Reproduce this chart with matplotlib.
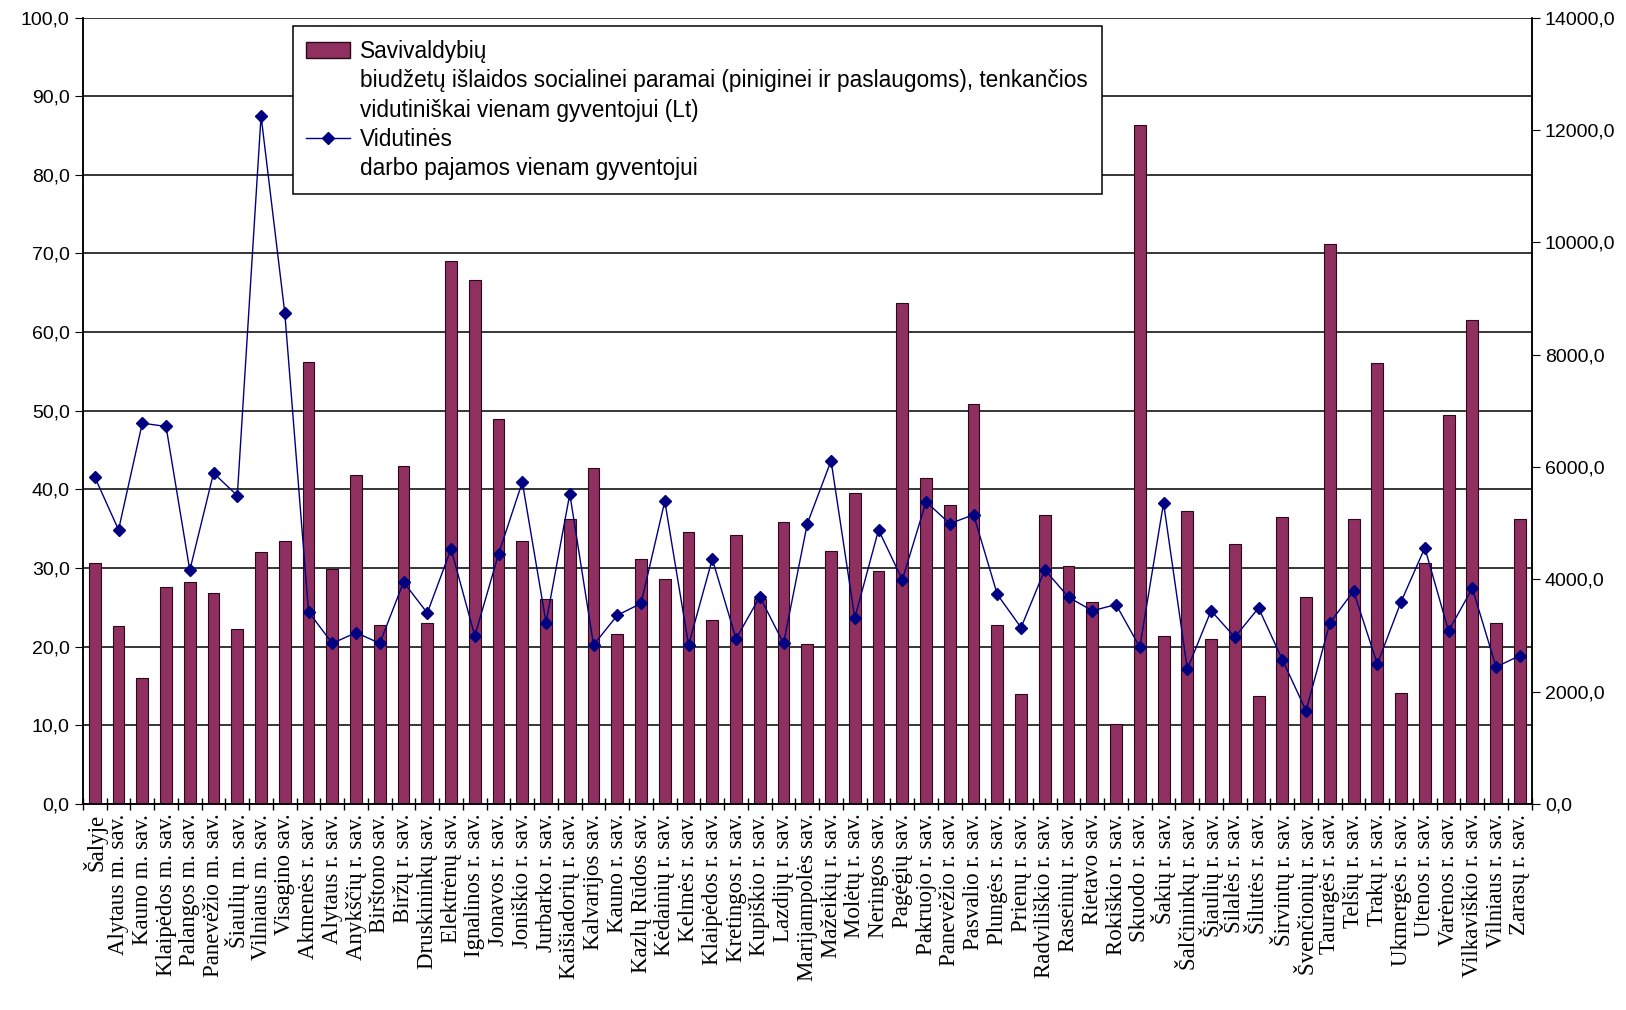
import numpy as np
import matplotlib
from matplotlib import pyplot as plt
from matplotlib.patches import Patch
from matplotlib.lines import Line2D
from matplotlib.ticker import FuncFormatter, MultipleLocator

savivaldybes = [
    'Šalyje', 'Alytaus m. sav.', 'Kauno m. sav.', 'Klaipėdos m. sav.', 'Palangos m. sav.',
    'Panevėžio m. sav.', 'Šiaulių m. sav.', 'Vilniaus m. sav.', 'Visagino sav.',
    'Akmenės r. sav.', 'Alytaus r. sav.', 'Anykščių r. sav.', 'Birštono sav.',
    'Biržų r. sav.', 'Druskininkų sav.', 'Elektrėnų sav.', 'Ignalinos r. sav.',
    'Jonavos r. sav.', 'Joniškio r. sav.', 'Jurbarko r. sav.', 'Kaišiadorių r. sav.',
    'Kalvarijos sav.', 'Kauno r. sav.', 'Kazlų Rūdos sav.', 'Kėdainių r. sav.',
    'Kelmės r. sav.', 'Klaipėdos r. sav.', 'Kretingos r. sav.', 'Kupiškio r. sav.',
    'Lazdijų r. sav.', 'Marijampolės sav.', 'Mažeikių r. sav.', 'Molėtų r. sav.',
    'Neringos sav.', 'Pagėgių sav.', 'Pakruojo r. sav.', 'Panevėžio r. sav.',
    'Pasvalio r. sav.', 'Plungės r. sav.', 'Prienų r. sav.', 'Radviliškio r. sav.',
    'Raseinių r. sav.', 'Rietavo sav.', 'Rokiškio r. sav.', 'Skuodo r. sav.',
    'Šakių r. sav.', 'Šalčininkų r. sav.', 'Šiaulių r. sav.', 'Šilalės r. sav.',
    'Šilutės r. sav.', 'Širvintų r. sav.', 'Švenčionių r. sav.', 'Tauragės r. sav.',
    'Telšių r. sav.', 'Trakų r. sav.', 'Ukmergės r. sav.', 'Utenos r. sav.',
    'Varėnos r. sav.', 'Vilkaviškio r. sav.', 'Vilniaus r. sav.', 'Zarasų r. sav.',
]

# socialinės paramos išlaidos vienam gyventojui (Lt), kairė ašis
islaidos = [
    30.7, 22.6, 16.0, 27.6, 28.2, 26.8, 22.3, 32.1, 33.4,
    56.2, 29.9, 41.8, 22.7, 43.0, 23.0, 69.0, 66.6,
    49.0, 33.4, 26.0, 36.3, 42.7, 21.6, 31.1, 28.6,
    34.6, 23.4, 34.2, 26.1, 35.8, 20.3, 32.2, 39.6,
    29.6, 63.7, 41.4, 38.0, 50.8, 22.7, 14.0, 36.7,
    30.2, 25.7, 10.2, 86.4, 21.4, 37.3, 21.0, 33.1,
    13.7, 36.5, 26.3, 71.2, 36.3, 56.1, 14.1, 30.7,
    49.5, 61.6, 23.0, 36.3,
]

# vidutinės darbo pajamos vienam gyventojui, dešinė ašis
pajamos = [
    5820, 4880, 6780, 6720, 4160, 5890, 5490, 12250, 8740,
    3420, 2860, 3050, 2860, 3950, 3400, 4540, 2990,
    4450, 5730, 3230, 5520, 2830, 3360, 3570, 5390,
    2830, 4360, 2940, 3690, 2860, 4990, 6110, 3310,
    4880, 3990, 5380, 4990, 5150, 3730, 3140, 4170,
    3680, 3440, 3550, 2790, 5360, 2400, 3440, 2970,
    3490, 2570, 1660, 3220, 3790, 2490, 3600, 4560,
    3080, 3840, 2440, 2640,
]

x = np.arange(len(savivaldybes))
comma = FuncFormatter(lambda v, p: f'{v:.1f}'.replace('.', ','))

fig = plt.figure(figsize=(16.26, 10.10), dpi=100)
ax = fig.add_axes([0.051, 0.204, 0.891, 0.7786])

ax.bar(x, islaidos, width=0.5, color='#8f3060', edgecolor='#2a0a18', linewidth=0.8)
ax.set_xlim(-0.5, len(x) - 0.5)
ax.set_ylim(0, 100)
ax.yaxis.set_major_locator(MultipleLocator(10))
ax.yaxis.set_major_formatter(comma)
ax.grid(axis='y', color='black', linewidth=1.1)
ax.set_axisbelow(True)

ax.set_xticks(x)
ax.set_xticklabels(savivaldybes, rotation=90, family='Liberation Serif', fontsize=16.5)
ax.set_xticks(np.arange(len(x) + 1) - 0.5, minor=True)
ax.tick_params(axis='x', which='major', length=0, pad=7)
ax.tick_params(axis='x', which='minor', direction='inout', length=9, width=1)
ax.tick_params(axis='y', direction='out', length=6, labelsize=14)
for lab in ax.get_yticklabels():
    lab.set_family('Liberation Sans')

ax2 = ax.twinx()
ax2.plot(x, pajamos, color='#000080', linewidth=1, marker='D', markersize=6)
ax2.set_ylim(0, 14000)
ax2.yaxis.set_major_locator(MultipleLocator(2000))
ax2.yaxis.set_major_formatter(comma)
ax2.tick_params(axis='y', direction='out', length=6, labelsize=14)
for lab in ax2.get_yticklabels():
    lab.set_family('Liberation Sans')

for a in (ax, ax2):
    a.spines['top'].set_visible(False)
    for s in ('left', 'right', 'bottom'):
        a.spines[s].set_linewidth(1.1)

blank = Line2D([], [], color='none')
handles = [
    Patch(facecolor='#8f3060', edgecolor='#2a0a18'),
    blank, blank,
    Line2D([], [], color='#000080', linewidth=1, marker='D', markersize=6),
    blank,
]
labels = [
    'Savivaldybių',
    'biudžetų išlaidos socialinei paramai (piniginei ir paslaugoms), tenkančios',
    'vidutiniškai vienam gyventojui (Lt)',
    'Vidutinės',
    'darbo pajamos vienam gyventojui',
]
leg = ax2.legend(handles, labels, loc='upper left', bbox_to_anchor=(0.180, 0.974),
                 bbox_transform=fig.transFigure, borderaxespad=0, fancybox=False,
                 framealpha=1, edgecolor='black', handlelength=1.93, handletextpad=0.46,
                 labelspacing=0.28, borderpad=0.6,
                 prop={'family': 'Liberation Sans', 'size': 16.3})
leg.get_frame().set_linewidth(1.1)

plt.savefig('out.png')
